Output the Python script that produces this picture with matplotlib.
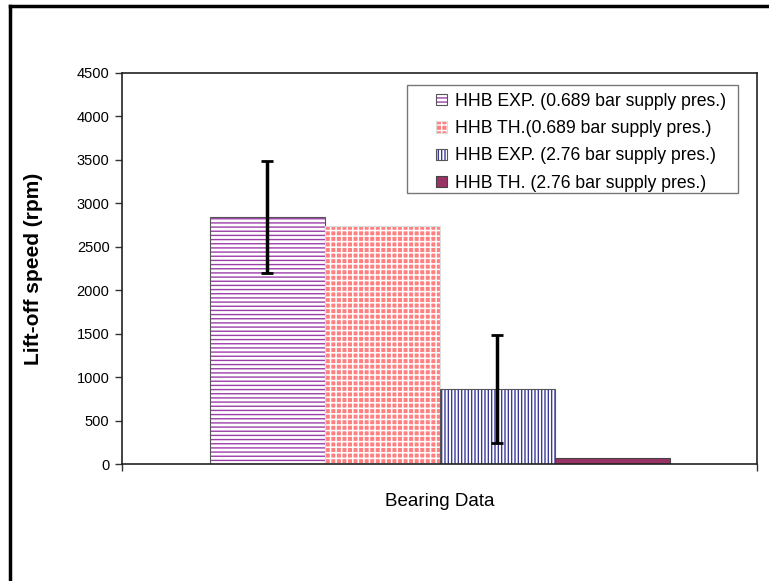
import matplotlib
matplotlib.use("Agg")
import matplotlib.pyplot as plt
from matplotlib.lines import Line2D
from matplotlib.patches import Rectangle

plt.rcParams['font.family'] = ['Liberation Sans', 'DejaVu Sans']
plt.rcParams['hatch.linewidth'] = 1.0

# Lift-off speed data for the hybrid bearing
series_labels = [
    "HHB EXP. (0.689 bar supply pres.)",
    "HHB TH.(0.689 bar supply pres.)",
    "HHB EXP. (2.76 bar supply pres.)",
    "HHB TH. (2.76 bar supply pres.)",
]
liftoff_rpm = [2840, 2740, 865, 70]
liftoff_err = [645, 0, 620, 0]
category_label = "Bearing Data"
y_ticks = [0, 500, 1000, 1500, 2000, 2500, 3000, 3500, 4000, 4500]

W, H = 769, 581
fig = plt.figure(figsize=(W / 100, H / 100), dpi=100)
ax = fig.add_axes([122 / W, 1 - 464 / H, (757 - 122) / W, (464 - 73) / H])

styles = [
    dict(facecolor="white", hatch="----", hatch_color="#9b3fa8", edgecolor="#555555", hlw=1.0),
    dict(facecolor="#ff8080", hatch="+++", hatch_color="white", edgecolor="#dddddd", hlw=1.1),
    dict(facecolor="white", hatch="|||||", hatch_color="#3a3a9a", edgecolor="#555555", hlw=1.0),
    dict(facecolor="#993366", hatch=None, hatch_color=None, edgecolor="#444444", hlw=1.0),
]

width = 115 / 635
n = len(liftoff_rpm)
for i, (val, err, lab, st) in enumerate(zip(liftoff_rpm, liftoff_err, series_labels, styles)):
    x = 0.5 + (i - (n - 1) / 2) * width
    plt.rcParams['hatch.linewidth'] = st["hlw"]
    if st["hatch"]:
        plt.rcParams['hatch.color'] = st["hatch_color"]
    b = ax.bar(x, val, width=width, facecolor=st["facecolor"], hatch=st["hatch"],
               edgecolor=st["edgecolor"], linewidth=0.8, label=lab, zorder=2)
    if st["hatch"]:
        for p in b:
            p._hatch_color = matplotlib.colors.to_rgba(st["hatch_color"])
    if err:
        ax.errorbar(x, val, yerr=err, fmt="none", ecolor="black", elinewidth=2.5,
                    capsize=4.5, capthick=2, zorder=3)

ax.set_xlim(0, 1)
ax.set_ylim(0, 4500)
ax.set_yticks(y_ticks)
ax.set_yticklabels([str(t) for t in y_ticks], fontsize=10.5)
ax.set_xticks([0, 1])
ax.set_xticklabels(["", ""])
ax.tick_params(axis="both", direction="out", length=5, width=1, color="#333333", pad=4)
for s in ax.spines.values():
    s.set_color("#222222")
    s.set_linewidth(1.2)

ax.set_ylabel("Lift-off speed (rpm)", fontsize=15, fontweight="bold", labelpad=24)
ax.set_xlabel(category_label, fontsize=13.5, labelpad=12)

# Legend entries, with a separate box drawn around them
leg = ax.legend(loc="upper left", bbox_to_anchor=(436 / W, 1 - 93 / H),
                bbox_transform=fig.transFigure, fontsize=12.7, frameon=False,
                handlelength=0.6, handleheight=0.6, handletextpad=0.45,
                borderpad=0, labelspacing=0.58, borderaxespad=0)
fig.add_artist(Rectangle((407 / W, 1 - 193 / H), (738 - 407) / W, (193 - 85) / H,
                         transform=fig.transFigure, facecolor="none",
                         edgecolor="#777777", linewidth=1.0))

# Page frame along the top and left edges
fig.add_artist(Line2D([10 / W, 1.0], [1 - 6 / H, 1 - 6 / H], color="black", lw=2.5,
                      transform=fig.transFigure))
fig.add_artist(Line2D([10 / W, 10 / W], [0.0, 1 - 6 / H], color="black", lw=2.5,
                      transform=fig.transFigure))

fig.savefig("out.png", dpi=100)
